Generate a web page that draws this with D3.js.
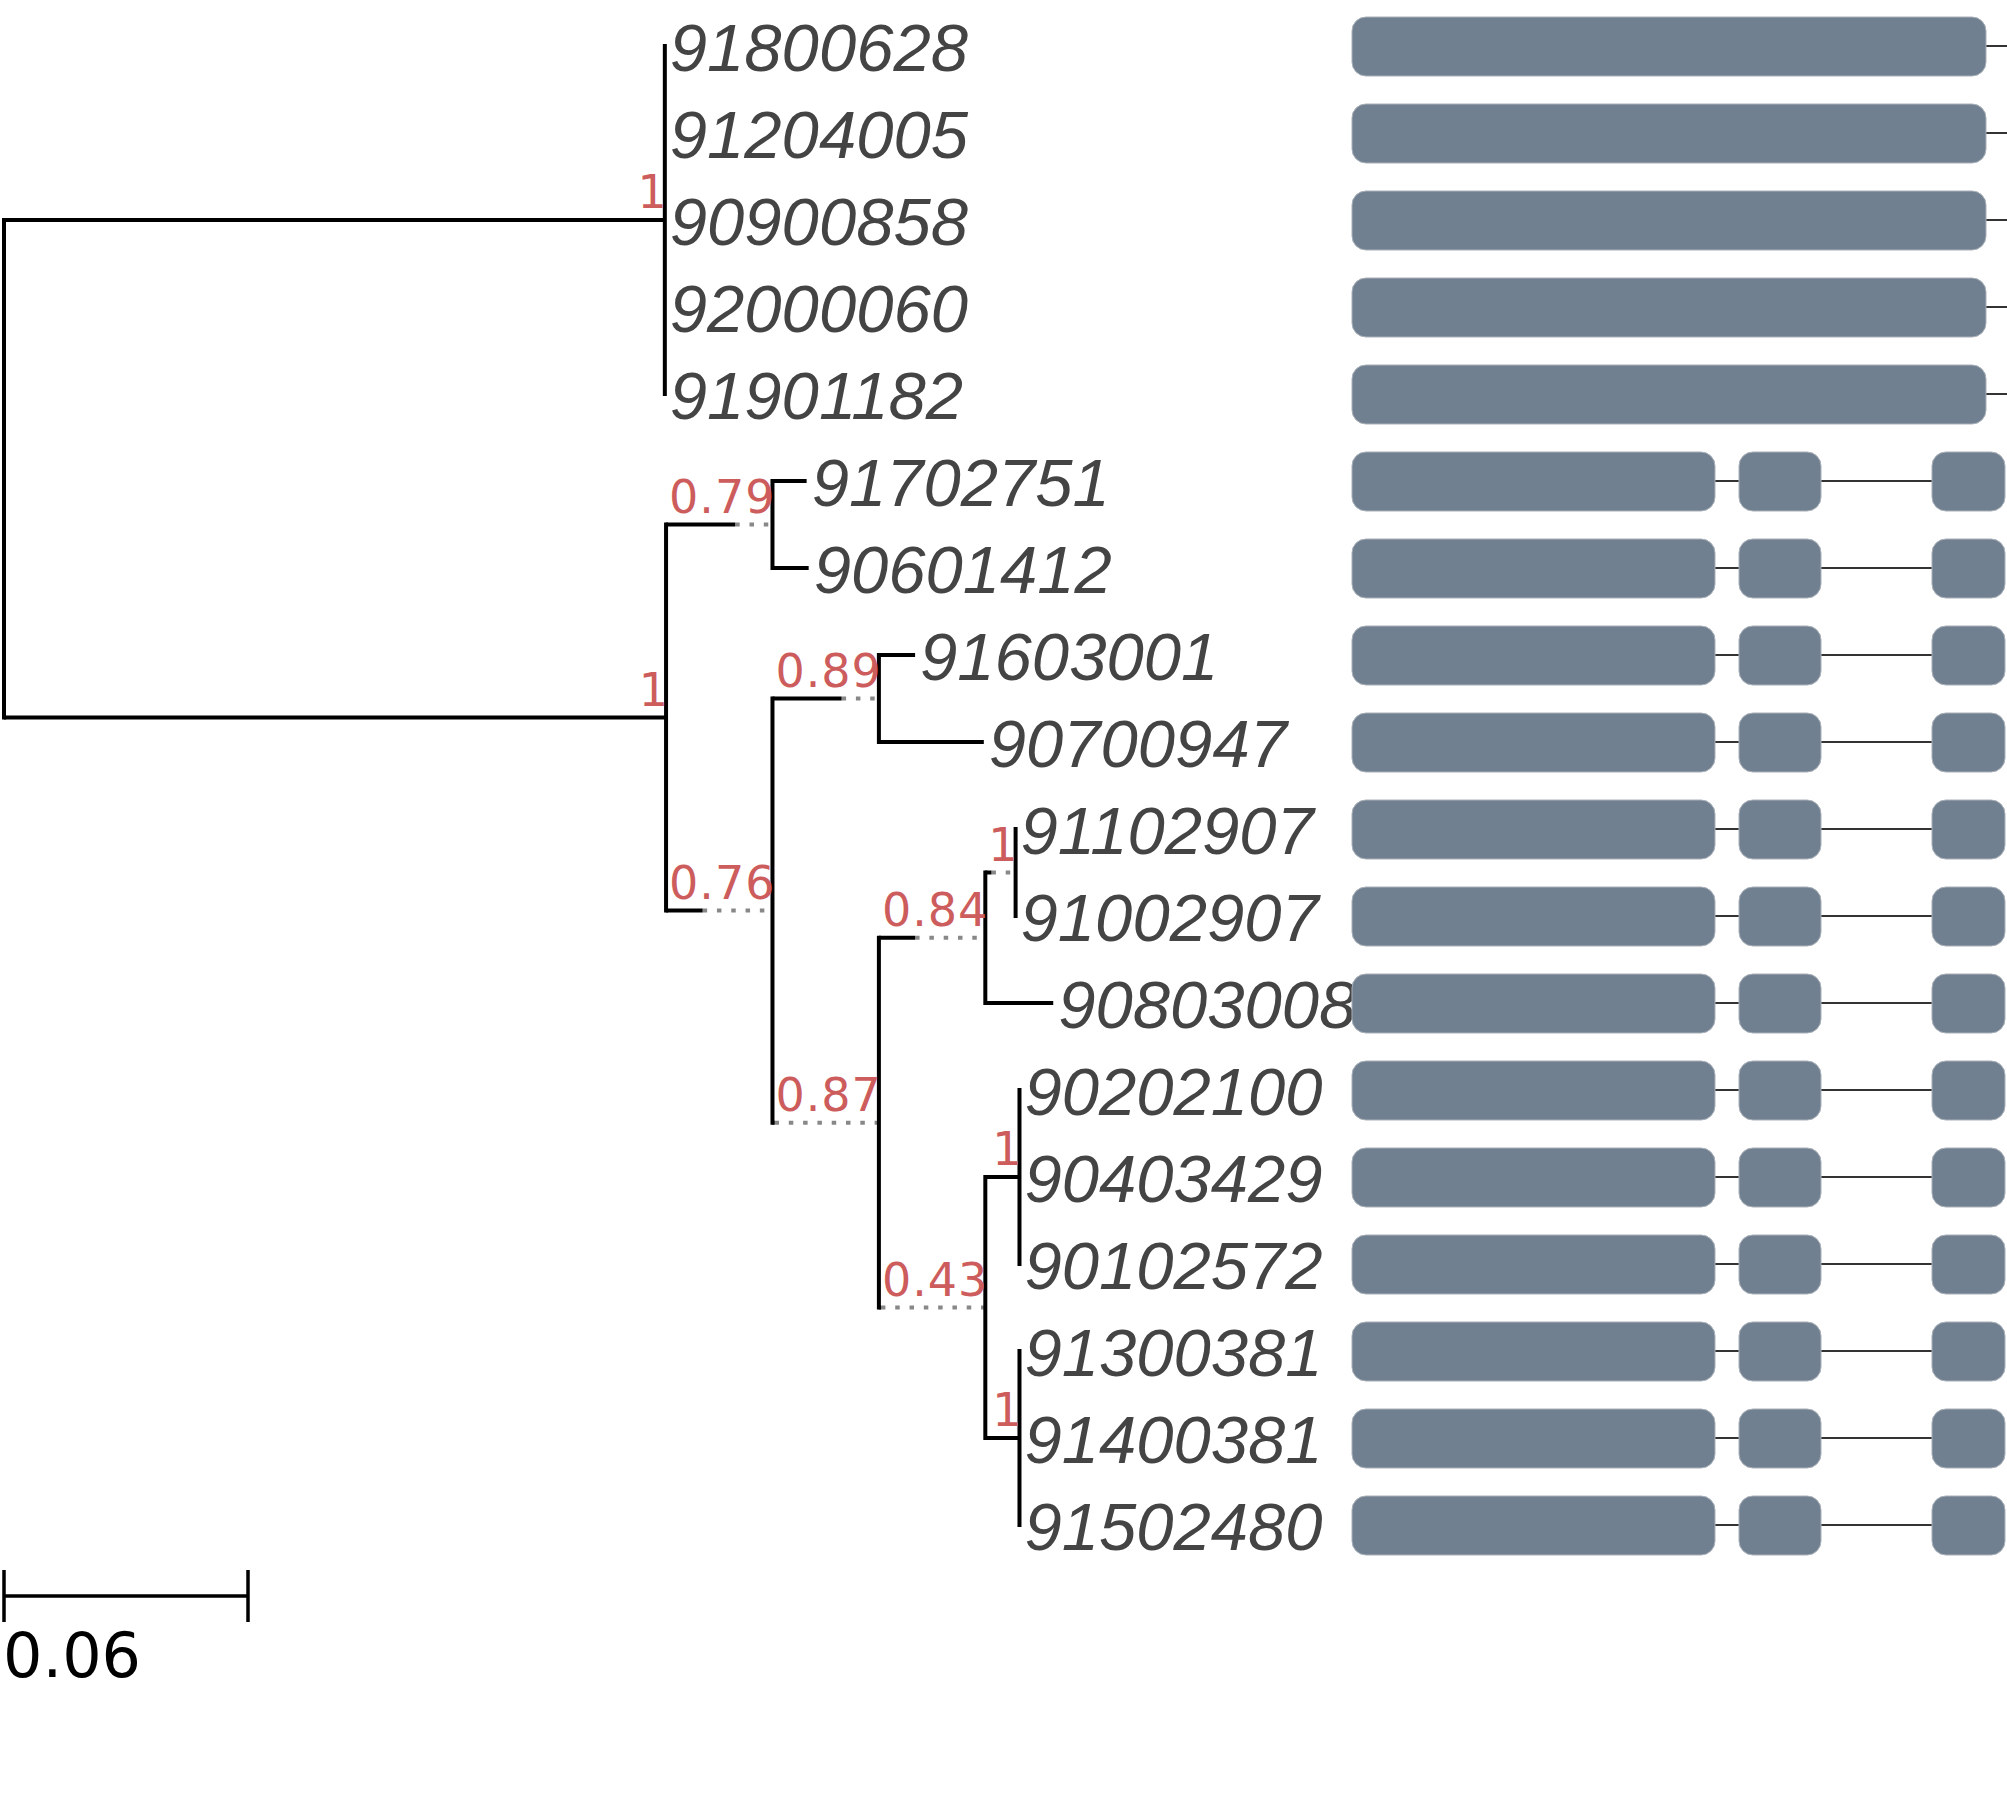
<!DOCTYPE html>
<html>
<head>
<meta charset="utf-8">
<script src="https://cdn.jsdelivr.net/npm/d3@7"></script>
<style>
	body { margin: 0; background: #fff; }
</style>
</head>
<body>
<script>
// tip order, top to bottom
const taxa = ["91800628", "91204005", "90900858", "92000060", "91901182",
	"91702751", "90601412", "91603001", "90700947", "91102907", "91002907",
	"90803008", "90202100", "90403429", "90102572", "91300381", "91400381", "91502480"];

// id, parent, branch length, support
const treeRows = [
	["root", "", 0, null],
	["A", "root", 0.1625, 1],
	["91800628", "A", 0, null],
	["91204005", "A", 0, null],
	["90900858", "A", 0, null],
	["92000060", "A", 0, null],
	["91901182", "A", 0, null],
	["B", "root", 0.1628, 1],
	["B1", "B", 0.017, 0.79],
	["91702751", "B1", 0.0084, null],
	["90601412", "B1", 0.0089, null],
	["B2", "B", 0.009, 0.76],
	["B2a", "B2", 0.017, 0.89],
	["91603001", "B2a", 0.0089, null],
	["90700947", "B2a", 0.0258, null],
	["B2b", "B2", 0.0005, 0.87],
	["B2b1", "B2b", 0.0089, 0.84],
	["C1", "B2b1", 0.0015, 1],
	["91102907", "C1", 0, null],
	["91002907", "C1", 0, null],
	["90803008", "B2b1", 0.0167, null],
	["B2b2", "B2b", 0.0005, 0.43],
	["C2", "B2b2", 0.0084, 1],
	["90202100", "C2", 0, null],
	["90403429", "C2", 0, null],
	["90102572", "C2", 0, null],
	["C3", "B2b2", 0.0084, 1],
	["91300381", "C3", 0, null],
	["91400381", "C3", 0, null],
	["91502480", "C3", 0, null]
];

// gene models (track units)
const exonsFull = [[0, 634]];
const exonsSplit = [[0, 363], [387, 469], [580, 653]];
const trackEndFull = 700;
const trackEndSplit = 653;
const modelOfTaxon = ["full", "full", "full", "full", "full",
	"split", "split", "split", "split", "split", "split",
	"split", "split", "split", "split", "split", "split", "split"];

const scaleBarValue = 0.06;

function init() {
	const svg = d3.select("body").append("svg")
		.attr("width", 2007)
		.attr("height", 1813);

	const xTree = d3.scaleLinear().domain([0, scaleBarValue]).range([4, 248]);
	const yRow = d3.scalePoint().domain(taxa).range([46, 1525]);
	const xGene = d3.scaleLinear().domain([0, 655]).range([1352, 2007]);

	const root = d3.stratify()
		.id(d => d[0])
		.parentId(d => d[1] || null)(treeRows);

	// width of support labels, they stretch short branches
	const supportFont = sel => sel
		.attr("font-family", "DejaVu Sans")
		.attr("font-size", 46)
		.attr("letter-spacing", 1);
	const probe = svg.append("text").call(supportFont);
	const supportText = d => d.data[3] === null ? "" : String(d.data[3]);
	root.each(d => {
		const s = supportText(d);
		probe.text(s);
		d.faceW = s ? probe.node().getComputedTextLength() : 0;
	});
	probe.remove();

	root.each(d => {
		if (!d.parent) { d.x = xTree(0); d.solid = 0; return; }
		d.solid = xTree(d.data[2]) - xTree(0);
		d.x = d.parent.x + Math.max(d.solid, d.faceW);
	});
	root.eachAfter(d => {
		if (!d.children) d.y = yRow(d.id);
		else d.y = (d.children[0].y + d.children[d.children.length - 1].y) / 2;
	});

	const branches = root.descendants().filter(d => d.parent);
	const g = svg.append("g");

	// dotted extensions
	g.selectAll(".ext")
		.data(branches.filter(d => d.x - d.parent.x - d.solid > 1))
		.enter().append("line")
		.attr("x1", d => d.parent.x + d.solid)
		.attr("x2", d => d.x)
		.attr("y1", d => d.y)
		.attr("y2", d => d.y)
		.attr("stroke", "#888")
		.attr("stroke-width", 4)
		.attr("stroke-dasharray", "4.5,9.8");

	g.selectAll(".hbranch")
		.data(branches.filter(d => d.solid > 0))
		.enter().append("line")
		.attr("x1", d => d.parent.x)
		.attr("x2", d => d.parent.x + d.solid)
		.attr("y1", d => d.y)
		.attr("y2", d => d.y)
		.attr("stroke", "#000")
		.attr("stroke-width", 4);

	g.selectAll(".vbranch")
		.data(root.descendants().filter(d => d.children))
		.enter().append("line")
		.attr("x1", d => d.x)
		.attr("x2", d => d.x)
		.attr("y1", d => d.children[0].y)
		.attr("y2", d => d.children[d.children.length - 1].y)
		.attr("stroke", "#000")
		.attr("stroke-width", 4)
		.attr("stroke-linecap", "square");

	g.selectAll(".support")
		.data(branches.filter(d => supportText(d)))
		.enter().append("text")
		.call(supportFont)
		.attr("x", d => d.x - d.faceW + 3)
		.attr("y", d => d.y - 12)
		.attr("fill", "#cd5c5c")
		.text(supportText);

	g.selectAll(".tip")
		.data(root.leaves())
		.enter().append("text")
		.attr("x", d => d.x + 5)
		.attr("y", d => d.y + 25)
		.attr("font-family", "Liberation Sans")
		.attr("font-style", "italic")
		.attr("font-size", 67)
		.attr("fill", "#444")
		.text(d => d.id);

	// gene structure column
	const tracks = svg.append("g").selectAll(".track")
		.data(taxa)
		.enter().append("g")
		.attr("transform", d => `translate(0,${yRow(d)})`);

	tracks.append("line")
		.attr("x1", xGene(0))
		.attr("x2", (d, i) => xGene(modelOfTaxon[i] === "full" ? trackEndFull : trackEndSplit))
		.attr("stroke", "#333")
		.attr("stroke-width", 2);

	tracks.selectAll("rect")
		.data((d, i) => modelOfTaxon[i] === "full" ? exonsFull : exonsSplit)
		.enter().append("rect")
		.attr("x", e => xGene(e[0]))
		.attr("width", e => xGene(e[1]) - xGene(e[0]))
		.attr("y", -29)
		.attr("height", 59)
		.attr("rx", 14)
		.attr("ry", 14)
		.attr("fill", "#708090")
		.attr("stroke", "#a9b0b8")
		.attr("stroke-width", 1);

	// scale bar
	const sb = svg.append("g");
	sb.append("line")
		.attr("x1", xTree(0)).attr("x2", xTree(scaleBarValue))
		.attr("y1", 1596).attr("y2", 1596)
		.attr("stroke", "#000").attr("stroke-width", 3.5);
	sb.selectAll(".tick")
		.data([0, scaleBarValue])
		.enter().append("line")
		.attr("x1", d => xTree(d)).attr("x2", d => xTree(d))
		.attr("y1", 1570).attr("y2", 1622)
		.attr("stroke", "#000").attr("stroke-width", 3.5);
	sb.append("text")
		.attr("x", 3)
		.attr("y", 1677)
		.attr("font-family", "DejaVu Sans")
		.attr("font-size", 62)
		.attr("fill", "#000")
		.text(String(scaleBarValue));
}

init();
</script>
</body>
</html>
